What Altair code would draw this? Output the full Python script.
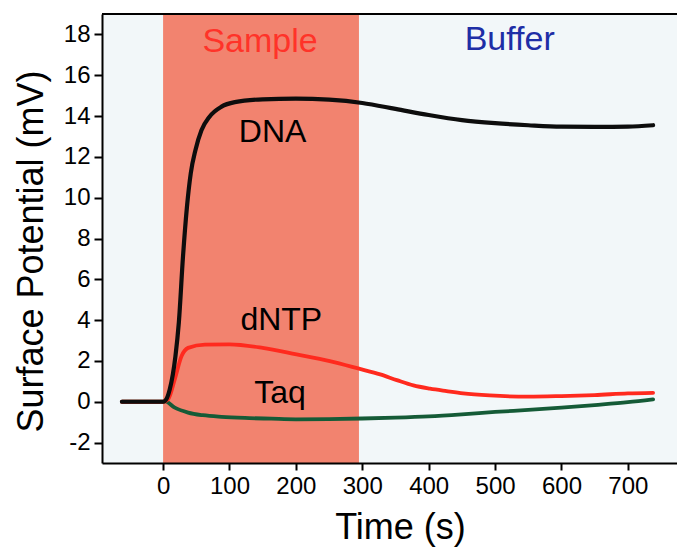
import altair as alt
import pandas as pd

# ---- data ----
dna_t = [-62, -30, 0, 2.6, 10, 18.6, 23.7, 30, 36, 41.7, 48.8, 57.8, 70, 88, 108, 150, 200, 250,
         300, 350, 400, 450, 500, 550, 600, 650, 700, 738]
dna_v = [0.0, 0.0, 0.0, 0.03, 0.6, 2.23, 3.87, 7.12, 9.57, 11.2, 12.34, 13.3, 13.97, 14.46, 14.68,
         14.82, 14.85, 14.8, 14.64, 14.35, 14.05, 13.8, 13.65, 13.55, 13.48, 13.47, 13.48, 13.55]

dntp_t = [-62, -30, 0, 7.5, 17.6, 27.7, 37.7, 63, 100, 150, 201, 251, 295, 327, 352, 377, 402,
          427, 452, 492, 550, 600, 650, 700, 738]
dntp_v = [0.0, 0.0, 0.0, 0.12, 1.1, 2.23, 2.64, 2.8, 2.81, 2.64, 2.32, 1.99, 1.62, 1.34, 1.06,
          0.8, 0.64, 0.52, 0.41, 0.31, 0.25, 0.28, 0.33, 0.41, 0.44]

taq_t = [-62, -30, 0, 2.5, 17.6, 37.7, 60, 88, 130, 163, 200, 250, 300, 350, 400, 450, 500,
         550, 600, 650, 700, 738]
taq_v = [0.0, 0.0, 0.0, 0.03, -0.29, -0.53, -0.66, -0.74, -0.8, -0.83, -0.86, -0.85, -0.82,
         -0.78, -0.72, -0.62, -0.5, -0.4, -0.29, -0.16, -0.02, 0.12]

phase_start = [0]
phase_end = [295]

label_text = ["Sample", "Buffer", "DNA", "dNTP", "Taq"]
label_t = [146, 522, 165, 178, 176]
label_v = [17.15, 17.23, 12.75, 3.54, -0.04]
label_size = [34, 34, 32, 32, 32]
label_color = ["#ff3329", "#1e2ea6", "#000000", "#000000", "#000000"]

X_DOM = [-92, 774]
Y_DOM = [-3, 19]

dna = pd.DataFrame({"t": dna_t, "v": dna_v})
dntp = pd.DataFrame({"t": dntp_t, "v": dntp_v})
taq = pd.DataFrame({"t": taq_t, "v": taq_v})
shade = pd.DataFrame({"t0": phase_start, "t1": phase_end, "lo": [Y_DOM[0]], "hi": [Y_DOM[1]]})
labels = pd.DataFrame({"txt": label_text, "t": label_t, "v": label_v, "c": label_color,
                       "s": label_size})

FONT = "Liberation Sans"

xs = alt.Scale(domain=X_DOM, nice=False, zero=False)
ys = alt.Scale(domain=Y_DOM, nice=False, zero=False)

x_axis = alt.Axis(
    title="Time (s)", values=[0, 100, 200, 300, 400, 500, 600, 700], grid=False,
    tickSize=7, tickWidth=2, tickColor="black", domainColor="black", domainWidth=2,
    labelFont=FONT, labelFontSize=24, labelColor="black", labelPadding=4,
    titleFont=FONT, titleFontSize=36, titleFontWeight="normal", titleColor="black",
    titleX=298, titleY=75, titleBaseline="alphabetic", zindex=2,
)
y_axis = alt.Axis(
    title="Surface Potential (mV)", values=list(range(-2, 19, 2)), grid=False,
    tickSize=8, tickWidth=2, tickColor="black", domainColor="black", domainWidth=2,
    labelFont=FONT, labelFontSize=24, labelColor="black", labelPadding=4,
    labelExpr="'' + datum.value",
    titleFont=FONT, titleFontSize=36, titleFontWeight="normal", titleColor="black",
    titleX=-60, titleY=237, titleBaseline="alphabetic", titleAngle=-90, zindex=2,
)

rect = alt.Chart(shade).mark_rect(color="#f2836f", opacity=1).encode(
    x=alt.X("t0:Q", scale=xs, axis=x_axis),
    x2="t1:Q",
    y=alt.Y("lo:Q", scale=ys, axis=y_axis),
    y2="hi:Q",
)

def line(df, color, w):
    return alt.Chart(df).mark_line(color=color, strokeWidth=w, interpolate="monotone",
                                   strokeCap="round").encode(
        x=alt.X("t:Q", scale=xs), y=alt.Y("v:Q", scale=ys)
    )

taq_line = line(taq, "#155b37", 3.8)
dntp_line = line(dntp, "#ff2a1e", 3.8)
dna_line = line(dna, "#0d0d0d", 4.2)

top = alt.Chart(shade).mark_rule(color="black", strokeWidth=2).encode(
    x=alt.value(0), x2=alt.value(575), y=alt.value(0)
)

txt = alt.Chart(labels).mark_text(font=FONT, baseline="alphabetic", align="center").encode(
    x=alt.X("t:Q", scale=xs), y=alt.Y("v:Q", scale=ys),
    text="txt:N", color=alt.Color("c:N", scale=None),
    size=alt.Size("s:Q", scale=None),
)

chart = alt.layer(rect, taq_line, dntp_line, dna_line, txt, top).properties(
    width=575, height=449,
    autosize=alt.AutoSizeParams(type="none"),
    padding={"left": 102, "top": 14, "right": 0, "bottom": 86},
    background="white",
).configure_view(fill="#f2f7f9", stroke=None)

chart.save("out.html", embed_options={"renderer": "svg", "actions": False})
